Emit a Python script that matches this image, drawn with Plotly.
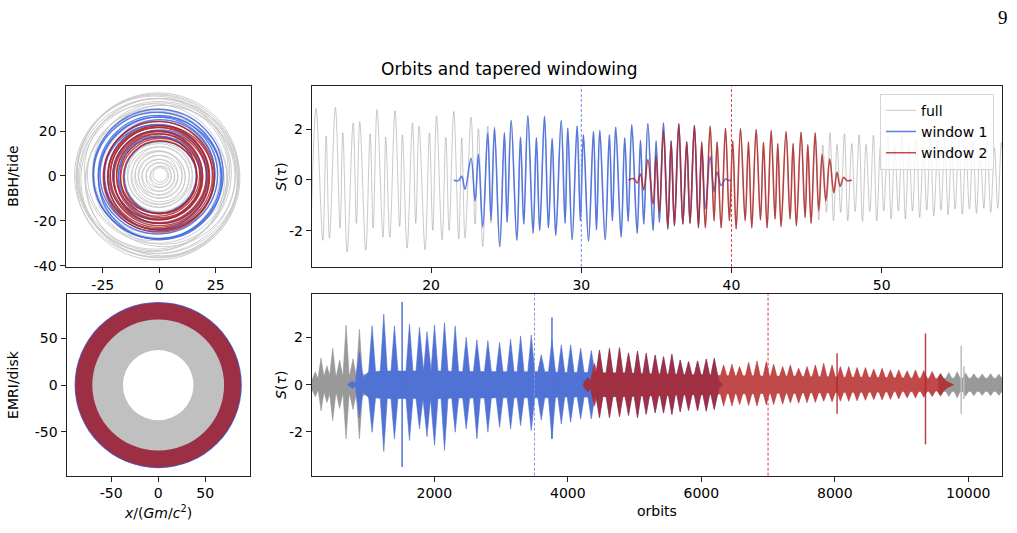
import plotly.graph_objects as go

# ---------------- data ----------------
# top-right: BBH/tide signal extrema  (orbits, S)
FULL = [(12.00,-2.10),(12.34,2.82),(12.79,-2.38),(13.01,1.73),(13.23,-2.29),(13.63,2.86),(13.94,-1.89),(14.12,1.86),
 (14.41,-2.84),(14.81,2.25),(15.03,-1.71),(15.25,2.30),(15.65,-2.77),(15.94,1.82),(16.14,-1.89),(16.40,2.77),
 (16.80,-2.25),(16.98,1.69),(17.25,-2.25),(17.60,2.73),(17.91,-1.84),(18.09,1.78),(18.40,-2.69),(18.76,2.25),
 (18.98,-1.71),(19.20,2.12),(19.60,-2.75),(19.89,1.86),(20.11,-1.99),(20.36,2.53),(20.73,-2.36),(20.98,1.68),
 (21.20,-1.99),(21.51,2.70),(21.84,-2.33),(22.04,1.66),(22.26,-2.28),(22.66,2.47),(22.93,-1.74),(23.15,2.02),
 (23.44,-2.62),(23.77,2.12),(23.99,-1.70),(24.22,2.10),(24.57,-2.65),(24.88,1.86),(25.06,-1.67),(25.33,2.34),
 (25.71,-2.38),(25.95,1.69),(26.17,-1.74),(26.44,2.53),(26.79,-2.10),(27.01,1.66),(27.23,-1.99),(27.55,2.51),
 (27.81,-1.89),(28.06,1.63),(28.30,-2.19),(28.66,2.34),(28.92,-1.71),(29.10,2.04),(29.39,-2.36),(29.72,2.12),
 (29.94,-1.61),(30.14,1.78),(30.48,-2.41),(30.81,1.91),(31.01,-1.97),(31.23,1.95),(31.59,-2.36),(31.87,1.78),
 (32.07,-1.61),(32.29,2.08),(32.65,-2.25),(32.89,1.66),(33.12,-1.63),(33.36,2.17),(33.72,-2.10),(33.94,1.56),
 (34.16,-1.74),(34.43,2.22),(34.78,-1.99),(34.98,1.53),(35.20,-1.67),(35.47,2.25),(35.76,-1.95),(35.98,1.55),
 (36.20,-1.80),(36.49,2.21),(36.76,-1.74),(37.02,1.50),(37.24,-1.71),(37.53,2.15),(37.80,-1.89),(38.02,1.50),
 (38.26,-1.89),(38.58,2.12),(38.84,-1.61),(39.04,1.50),(39.31,-1.89),(39.60,2.04),(39.86,-1.61),(40.08,1.53),
 (40.31,-1.93),(40.60,2.02),(40.91,-1.61),(41.13,1.50),(41.35,-1.89),(41.64,1.99),(41.93,-1.58),(42.13,1.48),
 (42.37,-1.89),(42.64,1.95),(42.90,-1.54),(43.08,1.43),(43.30,-1.84),(43.63,1.91),(43.90,-1.54),(44.10,1.43),
 (44.32,-1.80),(44.63,1.89),(44.90,-1.48),(45.08,1.39),(45.30,-1.71),(45.57,1.86),(45.81,-1.58),(46.08,1.37),
 (46.32,-1.28),(46.56,1.86),(46.79,-1.61),(47.03,1.40),(47.27,-1.28),(47.52,1.82),(47.74,-1.61),(48.01,1.43),
 (48.23,-1.24),(48.50,1.78),(48.72,-1.63),(48.96,1.40),(49.21,-1.24),(49.45,1.76),(49.67,-1.61),(49.92,1.37),
 (50.14,-1.22),(50.40,1.73),(50.63,-1.54),(50.87,1.35),(51.11,-1.22),(51.36,1.69),(51.58,-1.54),(51.82,1.35),
 (52.05,-1.22),(52.31,1.66),(52.53,-1.48),(52.78,1.30),(53.00,-1.19),(53.24,1.63),(53.47,-1.41),(53.73,1.30),
 (53.95,-1.19),(54.20,1.60),(54.42,-1.37),(54.66,1.30),(54.89,-1.15),(55.13,1.57),(55.37,-1.35),(55.60,1.30),
 (55.84,-1.15),(56.08,1.53),(56.31,-1.32),(56.55,1.27),(56.80,-1.12),(57.02,1.50),(57.26,-1.28),(57.51,1.27),
 (57.73,-1.12),(57.97,1.48),(58.20,-1.20)]

WIN1 = [(21.51,0.00),(21.70,-0.04),(21.84,-0.02),(22.04,0.14),(22.26,-0.37),(22.66,0.85),(22.93,-0.83),(23.15,1.01),
 (23.44,-1.86),(23.77,1.86),(23.99,-1.58),(24.22,2.02),(24.57,-2.62),(24.88,1.86),(25.06,-1.67),(25.33,2.34),
 (25.71,-2.38),(25.95,1.69),(26.17,-1.74),(26.44,2.53),(26.79,-2.10),(27.01,1.66),(27.23,-1.99),(27.55,2.51),
 (27.81,-1.89),(28.06,1.63),(28.30,-2.19),(28.66,2.34),(28.92,-1.71),(29.10,2.04),(29.39,-2.36),(29.72,2.12),
 (29.94,-1.61),(30.14,1.78),(30.48,-2.41),(30.81,1.91),(31.01,-1.97),(31.23,1.95),(31.59,-2.36),(31.87,1.78),
 (32.07,-1.61),(32.29,2.08),(32.65,-2.25),(32.89,1.66),(33.12,-1.63),(33.36,2.17),(33.72,-2.10),(33.94,1.56),
 (34.16,-1.74),(34.43,2.22),(34.78,-1.99),(34.98,1.53),(35.20,-1.67),(35.47,2.25),(35.76,-1.95),(35.98,1.55),
 (36.20,-1.80),(36.49,2.21),(36.76,-1.74),(37.02,1.50),(37.24,-1.71),(37.53,2.12),(37.80,-1.80),(38.02,1.30),
 (38.26,-1.13),(38.58,0.92),(38.84,-0.47),(39.04,0.31),(39.31,-0.22),(39.60,0.04),(39.80,-0.02),(39.97,0.00)]

WIN2 = [(33.14,0.00),(33.50,0.05),(33.72,-0.12),(33.94,0.23),(34.16,-0.39),(34.43,0.80),(34.78,-0.95),(34.98,0.95),
 (35.20,-1.28),(35.47,1.95),(35.76,-1.87),(35.98,1.50),(36.20,-1.80),(36.49,2.21),(36.76,-1.74),(37.02,1.50),
 (37.24,-1.71),(37.53,2.15),(37.80,-1.89),(38.02,1.50),(38.26,-1.89),(38.58,2.12),(38.84,-1.61),(39.04,1.50),
 (39.31,-1.89),(39.60,2.04),(39.86,-1.61),(40.08,1.53),(40.31,-1.93),(40.60,2.02),(40.91,-1.61),(41.13,1.50),
 (41.35,-1.89),(41.64,1.99),(41.93,-1.58),(42.13,1.48),(42.37,-1.89),(42.64,1.95),(42.90,-1.54),(43.08,1.43),
 (43.30,-1.84),(43.63,1.91),(43.90,-1.54),(44.10,1.43),(44.32,-1.80),(44.63,1.89),(44.90,-1.48),(45.08,1.39),
 (45.30,-1.71),(45.57,1.86),(45.81,-1.22),(46.03,1.01),(46.28,-0.83),(46.54,0.82),(46.81,-0.50),(47.03,0.31),
 (47.23,-0.25),(47.47,0.10),(47.70,-0.03),(48.01,0.00)]

TOP_VLINES = [30, 40]
BOT_VLINES = [3500, 7000]
BOT_TICKS = [2000, 4000, 6000, 8000, 10000]

# bottom-right: EMRI/disk burst envelopes (orbit, top, bottom, floor)
GRAY_L_START = (160, 0.25)
GRAY_L_C     = [215, 302, 390, 477, 580, 677, 780, 877]
GRAY_L_TOP   = [0.55, 1.13, 0.80, 1.55, 1.05, 2.53, 1.10, 2.35]
GRAY_L_BOT   = [-0.50, -1.10, -0.75, -1.52, -1.00, -2.29, -1.05, -2.29]
GRAY_L_FLOOR = [0.22, 0.30, 0.35, 0.40, 0.40, 0.44, 0.44, 0.46]
GRAY_L_END   = (1000, 0.40)

GRAY_R_START = (9550, 0.28)
GRAY_R_C     = [9584, 9709, 9834, 9959, 10084, 10209, 10334, 10459]
GRAY_R_TOP   = [0.50, 0.52, 0.55, 0.50, 0.47, 0.46, 0.47, 0.45]
GRAY_R_BOT   = [-0.50, -0.50, -0.55, -0.48, -0.46, -0.45, -0.46, -0.45]
GRAY_R_FLOOR = [0.28, 0.28, 0.28, 0.28, 0.28, 0.28, 0.28, 0.28]
GRAY_R_END   = (10560, 0.28)

BLUE_START = (700, 0.0)
BLUE_C   = [770, 877, 1067, 1242, 1402, 1627, 1777, 1890, 2002, 2152, 2312, 2477, 2637, 2802, 2977, 3142, 3292,
            3452, 3602, 3762, 3902, 4042, 4192, 4352, 4474, 4624, 4774, 4909, 5044, 5174, 5309, 5434, 5559, 5684,
            5809, 5944, 6074, 6194]
BLUE_TOP = [0.15, 1.41, 2.50, 2.99, 2.49, 2.57, 2.43, 2.25, 2.53, 2.63, 2.49, 2.01, 1.90, 1.87, 1.79, 1.93, 2.07,
            2.11, 1.27, 1.90, 1.69, 1.69, 1.55, 1.45, 1.47, 1.54, 1.57, 1.35, 1.43, 1.33, 1.26, 1.19, 1.29, 1.05,
            0.98, 1.01, 1.09, 1.12]
BLUE_BOT = [-0.15, -1.38, -2.01, -2.82, -2.29, -2.36, -1.87, -2.20, -2.57, -2.78, -2.01, -1.87, -2.29, -2.01,
            -1.80, -1.87, -1.73, -1.94, -1.50, -2.29, -1.66, -1.59, -1.45, -1.45, -1.40, -1.40, -1.35, -1.30, -1.40,
            -1.25, -1.19, -1.20, -1.26, -1.15, -1.09, -1.10, -1.12, -1.05]
BLUE_FLOOR = [0.06, 0.30, 0.55, 0.58, 0.58, 0.58, 0.58, 0.58, 0.58, 0.58, 0.56, 0.56, 0.56, 0.56, 0.55, 0.55,
              0.55, 0.55, 0.55, 0.55, 0.52, 0.52, 0.52, 0.52, 0.50, 0.50, 0.50, 0.50, 0.48, 0.46, 0.46, 0.44,
              0.44, 0.42, 0.42, 0.41, 0.41, 0.40]
BLUE_END = [(6260, 0.18), (6320, 0.0)]

RED_START = (4230, 0.0)
RED_C   = [4300, 4400, 4474, 4624, 4774, 4909, 5044, 5174, 5309, 5434, 5559, 5684, 5809, 5944, 6074, 6194, 6334,
           6459, 6574, 6709, 6834, 6974, 7084, 7219, 7334, 7459, 7584, 7709, 7834, 7959, 8084, 8209, 8334, 8459,
           8584, 8709, 8834, 8959, 9084, 9209, 9334, 9459, 9584]
RED_TOP = [0.30, 0.90, 1.47, 1.54, 1.57, 1.35, 1.43, 1.33, 1.26, 1.19, 1.29, 1.05, 0.98, 1.01, 1.09, 1.12, 0.84,
           0.87, 0.77, 0.95, 1.01, 0.98, 0.87, 0.77, 0.84, 0.70, 0.77, 0.84, 0.91, 0.84, 0.77, 0.77, 0.73, 0.73,
           0.67, 0.70, 0.63, 0.63, 0.59, 0.63, 0.60, 0.56, 0.45]
RED_BOT = [-0.30, -0.90, -1.40, -1.40, -1.35, -1.30, -1.40, -1.25, -1.19, -1.20, -1.26, -1.15, -1.09, -1.10,
           -1.12, -1.05, -0.91, -0.90, -0.84, -0.88, -0.90, -0.85, -0.84, -0.82, -0.77, -0.78, -0.76, -0.75,
           -0.70, -0.72, -0.70, -0.70, -0.68, -0.66, -0.63, -0.64, -0.62, -0.60, -0.56, -0.56, -0.53, -0.50, -0.45]
RED_FLOOR = [0.15, 0.35, 0.50, 0.50, 0.50, 0.50, 0.46, 0.46, 0.46, 0.46, 0.44, 0.42, 0.42, 0.42, 0.42, 0.40,
             0.38, 0.38, 0.38, 0.38, 0.38, 0.36, 0.36, 0.36, 0.36, 0.36, 0.34, 0.34, 0.34, 0.34, 0.32, 0.32,
             0.32, 0.32, 0.31, 0.31, 0.30, 0.29, 0.29, 0.28, 0.28, 0.27, 0.25]
RED_END = [(9680, 0.14), (9780, 0.0)]

SPIKE_BLUE = [(1517, 3.51, -3.48), (3762, 2.85, -2.29)]
SPIKE_RED  = [(8034, 1.33, -1.23), (9359, 2.17, -2.52)]
SPIKE_GRAY = [(9894, 1.65, -1.23), (9934, 0.77, -0.60)]

# top-left: BBH/tide orbit loops (radius, centre x, centre y)
GRAY_ORB_R  = [3.2, 4.0, 4.8, 5.6, 6.4, 7.2, 8.0, 8.8, 9.6, 10.4, 11.2, 12.0, 12.8, 13.6, 14.4, 15.2, 16.0,
               27.5, 28.5, 29.3, 30.0, 30.8, 31.5, 32.2, 32.9, 33.5, 34.1, 34.7, 35.3, 35.8, 36.3, 36.0, 35.5]
GRAY_ORB_CX = [0.4, 0.2, 0.6, -0.3, 0.5, -0.4, 0.3, -0.6, 0.5, -0.2, 0.3, -0.5, 0.6, -0.3, 0.2, -0.4, 0.5,
               -1.5, 1.8, -2.5, 0.5, -2.0, 2.0, -1.0, -3.0, 1.0, -2.2, 0.0, -1.5, -0.5, -1.2, -0.8, 0.2]
GRAY_ORB_CY = [0.5, 0.2, -0.3, 0.4, -0.5, 0.3, -0.6, 0.4, -0.4, 0.6, -0.3, -0.7, 0.2, -0.5, 0.6, -0.8, 0.1,
               1.5, -2.0, 0.5, 2.5, -2.5, 0.0, 2.2, -0.8, -2.0, 1.5, -1.5, 0.8, 1.2, 0.2, -1.4, -1.0]
BLUE_ORB_R  = [16.0, 17.2, 18.4, 19.6, 20.8, 22.0, 23.2, 24.4, 25.4, 26.4, 27.3, 28.2, 28.8]
BLUE_ORB_CX = [0.5, -0.8, 0.3, -1.0, 0.6, -0.5, -1.2, 0.2, -0.8, -0.6, 0.4, -0.9, -0.5]
BLUE_ORB_CY = [-0.5, 0.6, -0.8, 0.3, -0.3, 0.9, -0.4, 0.6, 0.8, 0.6, -1.0, 0.2, 0.9]
RED_ORB_R   = [16.3, 17.0, 17.7, 18.4, 19.1, 19.8, 20.5, 21.2, 21.9, 22.6, 23.3, 24.0, 24.6]
RED_ORB_CX  = [0.4, -0.3, 0.6, -0.5, 0.2, -0.7, 0.5, -0.4, 0.1, -0.3, 0.6, -0.5, -0.2]
RED_ORB_CY  = [-0.6, 0.3, -0.9, 0.5, -0.4, 0.2, -0.7, 0.4, -0.2, -0.3, -0.9, 0.3, -0.4]

# bottom-left: EMRI/disk annuli radii
DISK_BLUE_R = 88.8
DISK_RED_R = 88.0
DISK_GRAY_R = 70.0
DISK_HOLE_R = 37.5

# ---------------- styling ----------------
W, H = 1017, 533
GRAY_LINE = "rgba(150,150,150,0.5)"
BLUE_LINE = "rgba(65,105,225,0.85)"
RED_LINE = "rgba(178,34,34,0.82)"
GRAY_FILL = "rgb(153,153,153)"
BLUE_FILL = "rgb(80,114,212)"
RED_FILL = "rgba(178,34,34,0.82)"
FONT = "DejaVu Sans"


def px_x(p):
    return p / W


def px_y(p):
    return 1 - p / H


def envelope(start, cs, tops, bots, floors, ends, w):
    xs, up, lo = [start[0]], [start[1]], [-start[1]]
    for c, t, b, f in zip(cs, tops, bots, floors):
        xs += [c - w, c, c + w]
        up += [f, t, f]
        lo += [-f, b, -f]
    for e in ends:
        xs.append(e[0]); up.append(e[1]); lo.append(-e[1])
    return xs + xs[::-1], up + lo[::-1]


fig = go.Figure()

# top-right signal
for pts, name, col, wd in [(FULL, "full", GRAY_LINE, 1.0), (WIN1, "window 1", BLUE_LINE, 1.6),
                           (WIN2, "window 2", RED_LINE, 1.6)]:
    fig.add_trace(go.Scatter(x=[p[0] for p in pts], y=[p[1] for p in pts], mode="lines", name=name,
                             line=dict(color=col, width=wd, shape="spline", smoothing=1.0),
                             xaxis="x2", yaxis="y2", hoverinfo="skip"))

# bottom-right envelopes
for start, cs, tp, bt, fl, ends, col, w in [
    (GRAY_L_START, GRAY_L_C, GRAY_L_TOP, GRAY_L_BOT, GRAY_L_FLOOR, [GRAY_L_END], GRAY_FILL, 45),
    (GRAY_R_START, GRAY_R_C, GRAY_R_TOP, GRAY_R_BOT, GRAY_R_FLOOR, [GRAY_R_END], GRAY_FILL, 45),
    (BLUE_START, BLUE_C, BLUE_TOP, BLUE_BOT, BLUE_FLOOR, BLUE_END, BLUE_FILL, 52),
    (RED_START, RED_C, RED_TOP, RED_BOT, RED_FLOOR, RED_END, RED_FILL, 48)]:
    ex, ey = envelope(start, cs, tp, bt, fl, ends, w)
    fig.add_trace(go.Scatter(x=ex, y=ey, mode="lines", fill="toself", fillcolor=col,
                             line=dict(color=col, width=0.6), showlegend=False,
                             xaxis="x4", yaxis="y4", hoverinfo="skip"))

for spikes, col in [(SPIKE_GRAY, "rgb(190,190,190)"), (SPIKE_BLUE, BLUE_FILL), (SPIKE_RED, "rgba(178,34,34,0.85)")]:
    sx, sy = [], []
    for x, t, b in spikes:
        sx += [x, x, None]
        sy += [t, b, None]
    fig.add_trace(go.Scatter(x=sx, y=sy, mode="lines", line=dict(color=col, width=1.5),
                             showlegend=False, xaxis="x4", yaxis="y4", hoverinfo="skip"))

shapes = []
# top-left orbit loops
for rs, cxs, cys, col, wd in [(GRAY_ORB_R, GRAY_ORB_CX, GRAY_ORB_CY, "rgb(200,200,200)", 0.9),
                              (BLUE_ORB_R, BLUE_ORB_CX, BLUE_ORB_CY, "rgba(65,105,225,0.85)", 1.4),
                              (RED_ORB_R, RED_ORB_CX, RED_ORB_CY, "rgba(178,34,34,0.8)", 1.4)]:
    for r, cx, cy in zip(rs, cxs, cys):
        shapes.append(dict(type="circle", xref="x", yref="y", x0=cx - r, x1=cx + r, y0=cy - r, y1=cy + r,
                           line=dict(color=col, width=wd), layer="above"))
# bottom-left annuli
for r, col in [(DISK_BLUE_R, "rgb(65,105,225)"), (DISK_RED_R, "rgba(178,34,34,0.82)"),
               (DISK_GRAY_R, "rgb(192,192,192)"), (DISK_HOLE_R, "white")]:
    shapes.append(dict(type="circle", xref="x3", yref="y3", x0=-r, x1=r, y0=-r, y1=r,
                       fillcolor=col, line=dict(width=0), layer="above"))
# dashed window centres
for v, col in zip(TOP_VLINES, ["rgb(110,140,235)", "rgb(215,70,70)"]):
    shapes.append(dict(type="line", xref="x2", yref="y2 domain", x0=v, x1=v, y0=0, y1=1,
                       line=dict(color=col, width=1, dash="3px,2px"), layer="above"))
for v, col in zip(BOT_VLINES, ["rgb(130,155,240)", "rgb(215,60,60)"]):
    shapes.append(dict(type="line", xref="x4", yref="y4 domain", x0=v, x1=v, y0=0, y1=1,
                       line=dict(color=col, width=1, dash="3px,2px"), layer="above"))


def ax(domain, rng, tickvals, anchor):
    return dict(domain=domain, range=rng, tickvals=tickvals, ticktext=[str(t) for t in tickvals],
                anchor=anchor, showline=True, linecolor="#222",
                linewidth=1, mirror=True, ticks="outside", ticklen=5, tickwidth=1, tickcolor="#222",
                showgrid=False, zeroline=False, fixedrange=True,
                tickfont=dict(family=FONT, size=14, color="black"))


top_dom = [px_y(270.5), px_y(87.5)]
bot_dom = [px_y(482), px_y(298)]

fig.update_layout(
    width=W, height=H, margin=dict(l=0, r=0, t=0, b=0),
    paper_bgcolor="white", plot_bgcolor="white", shapes=shapes,
    xaxis=ax([px_x(65.5), px_x(251)], [-41.5, 40.6], [-25, 0, 25], "y"),
    yaxis=ax(top_dom, [-40.5, 39.9], [-40, -20, 0, 20], "x"),
    xaxis2=ax([px_x(311.7), px_x(1002.3)], [12.05, 58.03], [20, 30, 40, 50], "y2"),
    yaxis2=ax(top_dom, [-3.43, 3.69], [-2, 0, 2], "x2"),
    xaxis3=ax([px_x(66.5), px_x(250)], [-97.4, 97.5], [-50, 0, 50], "y3"),
    yaxis3=ax(bot_dom, [-96.8, 97.2], [-50, 0, 50], "x3"),
    xaxis4=ax([px_x(311.7), px_x(1002.3)], [162, 10510], BOT_TICKS, "y4"),
    yaxis4=ax(bot_dom, [-3.85, 3.84], [-2, 0, 2], "x4"),
    legend=dict(x=px_x(994), y=px_y(95), xanchor="right", yanchor="top",
                font=dict(family=FONT, size=14, color="black"), bgcolor="rgba(255,255,255,0.8)",
                bordercolor="#d5d5d5", borderwidth=1, tracegroupgap=0),
    showlegend=True,
)

annos = [
    dict(text="Orbits and tapered windowing", x=px_x(510), y=px_y(70), size=17),
    dict(text="9", x=px_x(1003), y=px_y(18), size=19, family="Liberation Serif"),
    dict(text="BBH/tide", x=px_x(13), y=px_y(179), size=14, angle=-90),
    dict(text="EMRI/disk", x=px_x(13), y=px_y(390), size=14, angle=-90),
    dict(text="<i>S</i>(<i>τ</i>)", x=px_x(281), y=px_y(179), size=14, angle=-90),
    dict(text="<i>S</i>(<i>τ</i>)", x=px_x(281), y=px_y(390), size=14, angle=-90),
    dict(text="<i>x</i>/(<i>Gm</i>/<i>c</i><sup>2</sup>)", x=px_x(158), y=px_y(519), size=14),
    dict(text="orbits", x=px_x(657), y=px_y(518), size=14),
]
for a in annos:
    fig.add_annotation(text=a["text"], x=a["x"], y=a["y"], xref="paper", yref="paper", showarrow=False,
                       xanchor="center", yanchor="middle", textangle=a.get("angle", 0),
                       font=dict(family=a.get("family", FONT), size=a["size"], color="black"))

fig.write_html("out.html")
